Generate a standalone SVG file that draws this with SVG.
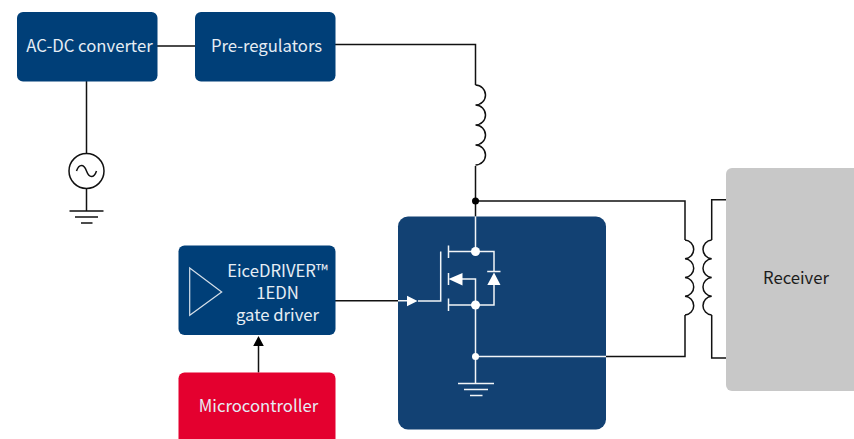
<svg xmlns="http://www.w3.org/2000/svg" width="854" height="439" viewBox="0 0 854 439">
<style>
text{font-family:"Noto Sans CJK SC","Source Sans Pro","Noto Sans",sans-serif;font-size:16.7px;text-anchor:middle}
.lt{fill:#e6edf4}
.blue{fill:#003f78}
.k{fill:none;stroke:#111;stroke-width:1.5}
.w{fill:none;stroke:#f2f5f8;stroke-width:1.5}
.wf{fill:#fff}
</style>
<rect width="854" height="439" fill="#fff"/>
<g id="connectors">
<path class="k" d="M157 46H195M335 44.500H475.500V85M475.500 166V216.500M475.500 201H685V240M685 315V356.500H606M711.700 240V199.700H726M711.700 315V358H726M86.500 81V154M86.500 188V211M335 300.800H398M258.500 372.500V345"/>
<path class="k" d="M475.500 85a10 10 0 0 1 0 20a10 10 0 0 1 0 20a10 10 0 0 1 0 20a10 10 0 0 1 0 20M685 240a9.400 9.400 0 0 1 0 18.750a9.400 9.400 0 0 1 0 18.750a9.400 9.400 0 0 1 0 18.750a9.400 9.400 0 0 1 0 18.750M711.700 240a9.400 9.400 0 0 0 0 18.750a9.400 9.400 0 0 0 0 18.750a9.400 9.400 0 0 0 0 18.750a9.400 9.400 0 0 0 0 18.750"/>
<circle cx="475.500" cy="201" r="3.500" fill="#000"/>
<path d="M258.500 336L263.800 346H253.200Z" fill="#000"/>
</g>
<g id="ac-dc-converter"><rect class="blue" x="17" y="12" width="140.500" height="69.500" rx="6"/><text class="lt" x="89.500" y="52">AC-DC converter</text></g>
<g id="pre-regulators"><rect class="blue" x="195" y="12" width="140.500" height="69.500" rx="6"/><text class="lt" x="266.500" y="52">Pre-regulators</text></g>
<g id="ac-source"><circle class="k" cx="86.500" cy="171" r="17.500"/><path class="k" d="M76.500 171c1.500-4.500 3-5.500 5-5.500s3.500 1.500 5 5.500s3 5.500 5 5.500s3.500-1 5-5.500"/><path class="k" d="M69.500 211H103.500M75 217H98M81 223H92.500"/></g>
<g id="gate-driver"><rect class="blue" x="178.500" y="245.500" width="157" height="89.500" rx="6"/><path d="M189.700 268L221.700 292L189.700 315.300Z" fill="none" stroke="#d5dfe9" stroke-width="1.200"/><text class="lt" x="277.500" y="277">EiceDRIVER™</text><text class="lt" x="277.500" y="299">1EDN</text><text class="lt" x="277.500" y="321">gate driver</text></g>
<g id="microcontroller"><rect x="178.500" y="372.500" width="157" height="72" rx="6" fill="#e4002f"/><text class="lt" x="258.500" y="411.500">Microcontroller</text></g>
<g id="mosfet-stage"><rect x="398" y="216.500" width="208" height="213" rx="10" fill="#124173"/>
<path class="w" d="M475.500 216.500V251.500M448.500 251.500H494V271.500M494 285V305H448.500M448.500 245.500V258M448.500 273V285M448.500 298.500V311M440.700 251.500V301H418M398 300.800H408M462 279H475.500V356.500M475.500 356.500H606M475.500 356.500V383.500M458 383.500H494M464 389.500H488M470 395.500H482.500M487.200 271.500H500.500"/>
<g class="wf"><circle cx="475.500" cy="251.500" r="4.500"/><circle cx="475.500" cy="305" r="4.500"/><circle cx="475.500" cy="356.500" r="3.500"/><path d="M417.500 301L407 295.800V306.200ZM448.500 279L462.500 273V285.500ZM494 272.500L500.500 285H487.300Z"/></g></g>
<g id="receiver"><path d="M732 168H854V391H732a6 6 0 0 1-6-6V174a6 6 0 0 1 6-6Z" fill="#c8c8c8"/><text x="796" y="283.500" fill="#1c1c1c">Receiver</text></g>
</svg>
